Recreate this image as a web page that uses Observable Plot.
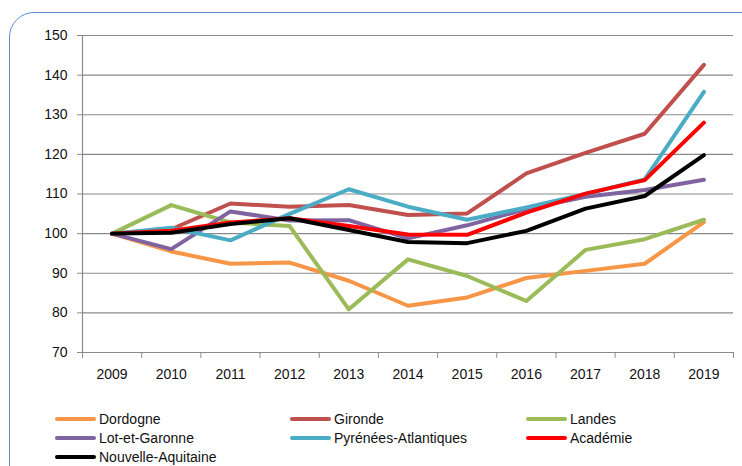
<!DOCTYPE html>
<html>
<head>
<meta charset="utf-8">
<script src="https://cdn.jsdelivr.net/npm/d3@7"></script>
<script src="https://cdn.jsdelivr.net/npm/@observablehq/plot@0.6"></script>
<style>
  html, body { margin: 0; padding: 0; background: #fff; }
  #wrap { position: relative; width: 742px; height: 466px; overflow: hidden; background: #fff;
          font-family: "Liberation Sans", Arial, sans-serif; }
  #frame { position: absolute; left: 9px; top: 12px; width: 770px; height: 490px;
           border: 1.3px solid #5a8fd6; border-radius: 25px; box-sizing: border-box; }
  #chart { position: absolute; left: 0; top: 0; }
  #legend { position: absolute; left: 0; top: 0; width: 742px; height: 466px; pointer-events: none; }
  .item { position: absolute; display: flex; align-items: center; font-size: 14px; line-height: 16px; color: #111; white-space: nowrap; }
  .sw { width: 41px; height: 4px; border-radius: 2px; margin-right: 3px; }
</style>
</head>
<body>
<div id="wrap">
  <div id="frame"></div>
  <div id="chart"></div>
  <div id="legend"></div>
</div>
<script>
const years = [2009, 2010, 2011, 2012, 2013, 2014, 2015, 2016, 2017, 2018, 2019];
const seriesNames = ["Dordogne", "Gironde", "Landes", "Lot-et-Garonne", "Pyrénées-Atlantiques", "Académie", "Nouvelle-Aquitaine"];
const seriesColors = ["#F79646", "#C0504D", "#9BBB59", "#8064A2", "#4BACC6", "#FF0000", "#000000"];
const dordogne = [100, 95.5, 92.4, 92.7, 88.1, 81.8, 83.9, 88.8, 90.6, 92.4, 102.9];
const gironde = [100, 101.1, 107.6, 106.8, 107.2, 104.7, 105.1, 115.2, 120.4, 125.2, 142.6];
const landes = [100, 107.2, 102.8, 101.9, 80.9, 93.5, 89.3, 83.0, 95.9, 98.6, 103.5];
const lotEtGaronne = [100, 96.1, 105.6, 103.3, 103.4, 98.8, 102.1, 106.2, 109.3, 111.0, 113.6];
const pyreneesAtlantiques = [100, 101.5, 98.3, 105.0, 111.2, 106.8, 103.5, 106.6, 110.0, 113.7, 135.8];
const academie = [100, 100.7, 102.8, 103.9, 101.9, 99.8, 99.7, 105.3, 110.1, 113.5, 128.0];
const nouvelleAquitaine = [100, 100.2, 102.4, 103.9, 100.9, 97.9, 97.6, 100.7, 106.3, 109.5, 119.8];
const yTicks = [70, 80, 90, 100, 110, 120, 130, 140, 150];

const seriesValues = [dordogne, gironde, landes, lotEtGaronne, pyreneesAtlantiques, academie, nouvelleAquitaine];
const data = [];
seriesNames.forEach((name, i) => {
  years.forEach((yr, j) => data.push({series: name, year: yr, value: seriesValues[i][j]}));
});
const bounds = years.map(y => y - 0.5).concat([years[years.length - 1] + 0.5]);

const grey = "#8a8a8a";
const chart = Plot.plot({
  width: 742,
  height: 390,
  marginLeft: 82,
  marginRight: 9,
  marginTop: 35,
  marginBottom: 38,
  style: {fontFamily: "'Liberation Sans', Arial, sans-serif", fontSize: "14px", color: "#111", background: "transparent"},
  x: {domain: [bounds[0], bounds[bounds.length - 1]]},
  y: {domain: [70, 150]},
  color: {domain: seriesNames, range: seriesColors},
  marks: [
    Plot.ruleY(yTicks, {stroke: grey, strokeWidth: 1.2}),
    Plot.ruleX([bounds[0]], {stroke: grey, strokeWidth: 1.2}),
    Plot.axisY(yTicks, {tickSize: 5, tickPadding: 10, stroke: grey, fill: "#111", tickFormat: d => String(d), label: null}),
    Plot.axisX(bounds, {tickSize: 6, stroke: grey, tickFormat: () => "", label: null}),
    Plot.axisX(years, {tickSize: 0, tickPadding: 17, tickFormat: d => String(d), fill: "#111", label: null}),
    Plot.line(data, {x: "year", y: "value", z: "series", stroke: "series", strokeWidth: 4, strokeLinejoin: "round", strokeLinecap: "round"})
  ]
});
document.getElementById("chart").appendChild(chart);

const legend = document.getElementById("legend");
const colX = [55, 290, 526];
const rowY = [419, 438, 457];
seriesNames.forEach((name, i) => {
  const el = document.createElement("div");
  el.className = "item";
  el.style.left = colX[i % 3] + "px";
  el.style.top = (rowY[Math.floor(i / 3)] - 8) + "px";
  el.style.height = "16px";
  const sw = document.createElement("span");
  sw.className = "sw";
  sw.style.background = seriesColors[i];
  const t = document.createElement("span");
  t.textContent = name;
  el.appendChild(sw);
  el.appendChild(t);
  legend.appendChild(el);
});
</script>
</body>
</html>
